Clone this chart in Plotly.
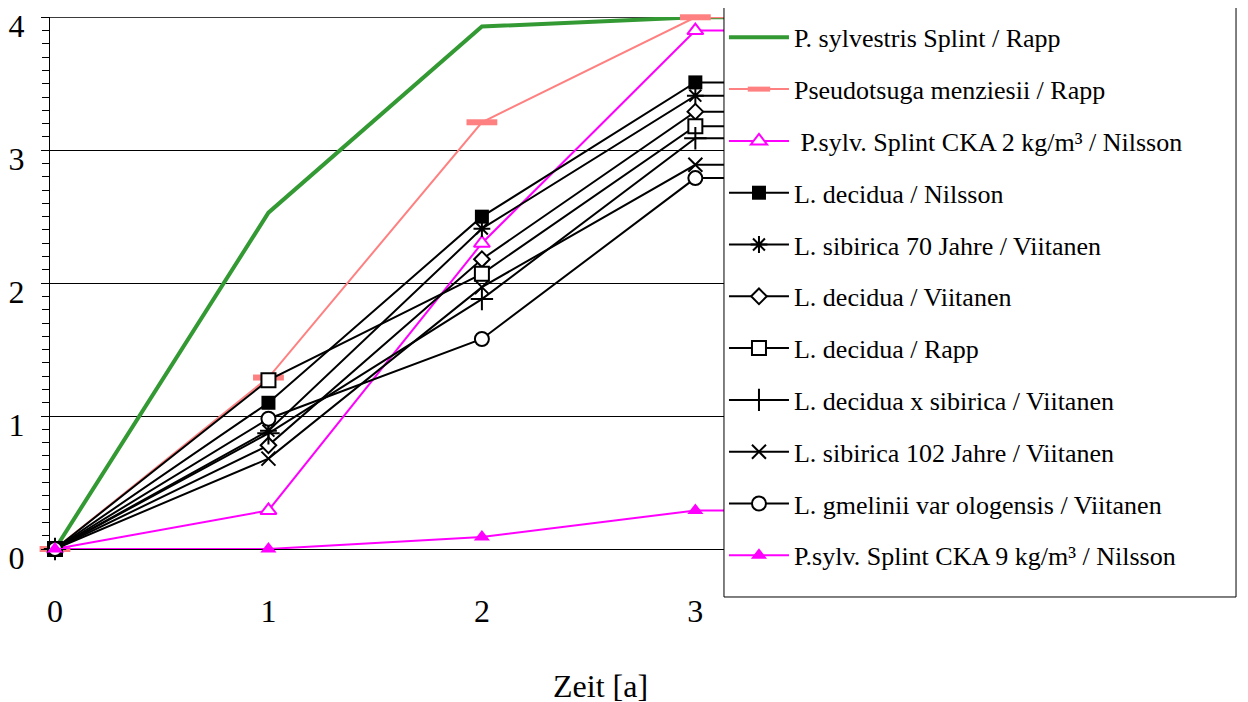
import plotly.graph_objects as go

years = [0, 1, 2, 3, 4]

names = [
    "P. sylvestris Splint / Rapp",
    "Pseudotsuga menziesii / Rapp",
    "\u00a0P.sylv. Splint CKA 2 kg/m³ / Nilsson",
    "L. decidua / Nilsson",
    "L. sibirica 70 Jahre / Viitanen",
    "L. decidua / Viitanen",
    "L. decidua / Rapp",
    "L. decidua x sibirica / Viitanen",
    "L. sibirica 102 Jahre / Viitanen",
    "L. gmelinii var ologensis / Viitanen",
    "P.sylv. Splint CKA 9 kg/m³ / Nilsson",
]

p_sylv_rapp = [0, 2.53, 3.93, 4.0, 4.0]
pseudotsuga_rapp = [0, 1.29, 3.21, 4.0, 4.0]
p_sylv_cka2_nilsson = [0, 0.29, 2.3, 3.9, 3.9]
l_decidua_nilsson = [0, 1.1, 2.5, 3.51, 3.51]
l_sibirica70_viitanen = [0, 0.89, 2.41, 3.41, 3.41]
l_decidua_viitanen = [0, 0.78, 2.18, 3.29, 3.29]
l_decidua_rapp = [0, 1.27, 2.07, 3.18, 3.18]
l_dec_x_sib_viitanen = [0, 0.87, 1.88, 3.09, 3.09]
l_sibirica102_viitanen = [0, 0.68, 1.97, 2.89, 2.89]
l_gmelinii_viitanen = [0, 0.98, 1.58, 2.79, 2.79]
p_sylv_cka9_nilsson = [0, 0, 0.09, 0.29, 0.29]

series = [p_sylv_rapp, pseudotsuga_rapp, p_sylv_cka2_nilsson, l_decidua_nilsson,
          l_sibirica70_viitanen, l_decidua_viitanen, l_decidua_rapp,
          l_dec_x_sib_viitanen, l_sibirica102_viitanen, l_gmelinii_viitanen,
          p_sylv_cka9_nilsson]

y_ticks = [0, 1, 2, 3, 4]
x_ticks = [0, 1, 2, 3]

GREEN = "#339933"
SALMON = "#FF8080"
MAG = "#FF00FF"
BLK = "#000000"

styles = [
    dict(mode="lines", line=dict(color=GREEN, width=4), marker=None),
    dict(mode="lines+markers", line=dict(color=SALMON, width=2),
         marker=dict(symbol="line-ew", size=22, line=dict(color=SALMON, width=6))),
    dict(mode="lines+markers", line=dict(color=MAG, width=2),
         marker=dict(symbol="triangle-up", size=14, color="white", line=dict(color=MAG, width=2))),
    dict(mode="lines+markers", line=dict(color=BLK, width=2),
         marker=dict(symbol="square", size=14, color=BLK)),
    dict(mode="lines+markers", line=dict(color=BLK, width=2),
         marker=dict(symbol="asterisk-open", size=14, line=dict(color=BLK, width=2))),
    dict(mode="lines+markers", line=dict(color=BLK, width=2),
         marker=dict(symbol="diamond", size=12, color="white", line=dict(color=BLK, width=2))),
    dict(mode="lines+markers", line=dict(color=BLK, width=2),
         marker=dict(symbol="square", size=14, color="white", line=dict(color=BLK, width=2))),
    dict(mode="lines+markers", line=dict(color=BLK, width=2),
         marker=dict(symbol="cross-thin-open", size=16, line=dict(color=BLK, width=2))),
    dict(mode="lines+markers", line=dict(color=BLK, width=2),
         marker=dict(symbol="x-thin-open", size=14, line=dict(color=BLK, width=2))),
    dict(mode="lines+markers", line=dict(color=BLK, width=2),
         marker=dict(symbol="circle", size=14, color="white", line=dict(color=BLK, width=2))),
    dict(mode="lines+markers", line=dict(color=MAG, width=2),
         marker=dict(symbol="triangle-up", size=14, color=MAG)),
]

fig = go.Figure()
for i, (nm, vals, st) in enumerate(zip(names, series, styles)):
    kw = dict(x=years, y=vals, name=nm, mode=st["mode"], line=st["line"],
              cliponaxis=False, legendgroup=f"g{i}")
    if st["marker"] is not None:
        kw["marker"] = st["marker"]
    fig.add_trace(go.Scatter(**kw))

FONT = "Liberation Serif, Times New Roman, serif"

# page has an 8px body margin; figure is sized/offset to compensate
fig.update_layout(
    width=1240, height=694,
    margin=dict(l=42, r=98, t=9, b=153, autoexpand=False),
    paper_bgcolor="white", plot_bgcolor="white",
    font=dict(family=FONT, color="black", size=30),
    showlegend=True,
    legend=dict(
        x=0.6127, y=1.0058, xanchor="left", yanchor="top",
        bgcolor="rgba(0,0,0,0)", borderwidth=0,
        font=dict(family=FONT, size=26, color="black"),
        tracegroupgap=15,
        traceorder="grouped",
        itemwidth=60,
        maxheight=690,
    ),
    xaxis=dict(
        range=[-0.0234, 5.13],
        tickvals=x_ticks, ticktext=[str(v) for v in x_ticks],
        showgrid=False, zeroline=False, showline=False, ticks="",
        ticklabelstandoff=40,
        tickfont=dict(family=FONT, size=32),
    ),
    yaxis=dict(
        range=[0, 4.002],
        tickvals=y_ticks,
        showgrid=True, gridcolor="black", gridwidth=1,
        zeroline=True, zerolinecolor="black", zerolinewidth=1,
        showline=True, linecolor="black", linewidth=1,
        ticks="outside", ticklen=8, tickcolor="black",
        ticklabelstandoff=10, ticklabelshift=9,
        tickfont=dict(family=FONT, size=32),
        minor=dict(dtick=0.1, ticks="outside", ticklen=7, tickcolor="black", showgrid=False),
    ),
    shapes=[
        dict(type="line", xref="paper", yref="y", x0=0, x1=1, y0=y_ticks[-1], y1=y_ticks[-1],
             line=dict(color="black", width=1), layer="below"),
        # legend frame
        dict(type="rect", xref="paper", yref="paper", x0=0.6127, x1=1.0782, y0=-0.0902, y1=1.0188,
             fillcolor="white", line=dict(color="black", width=1), layer="above"),
    ],
    annotations=[dict(
        text="Zeit [a]", xref="paper", yref="paper", x=0.5, y=-0.2575,
        xanchor="center", yanchor="middle", showarrow=False,
        font=dict(family=FONT, size=32, color="black"),
    )],
)

fig.write_html("out.html")
